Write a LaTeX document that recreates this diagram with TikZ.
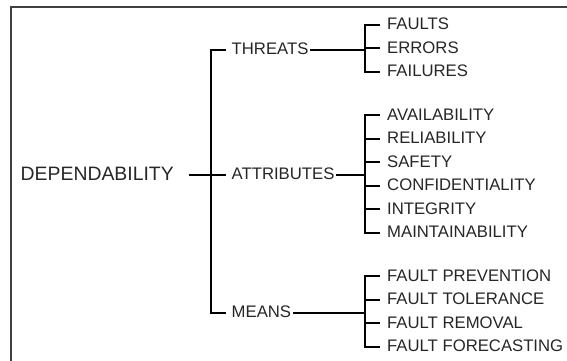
\documentclass[tikz,border=0pt]{standalone}
\usepackage{fontspec}
\setmainfont{Liberation Sans}
\usetikzlibrary{positioning}

\begin{document}
\begin{tikzpicture}[x=1pt, y=-1pt,
  item/.style={anchor=west, inner sep=0pt, text height=12pt, text depth=2pt,
    text=black!85, font=\fontsize{16.7}{20}\selectfont},
  root/.style={item, text height=13.9pt, font=\fontsize{19.4}{23}\selectfont},
  link/.style={line width=2pt}]

\useasboundingbox (0,0) rectangle (567,361);

% Frame (cut at right and bottom)
\draw[line width=1.4pt, black!75] (11,361) -- (11,7) -- (567,7);

% Main concept
\node[root] (dep) at (20.5,174.5) {DEPENDABILITY};

% First level
\node[item] (thr) at (231.5,50) {THREATS};
\node[item] (att) at (231.5,174.5) {ATTRIBUTES};
\node[item] (mea) at (231.5,312.5) {MEANS};

% Second level (threats)
\node[item] (fau) at (387,25) {FAULTS};
\node[item] (err) at (387,48.5) {ERRORS};
\node[item] (fai) at (387,72) {FAILURES};

% Second level (attributes)
\node[item] (ava) at (387,115) {AVAILABILITY};
\node[item] (rel) at (387,138.5) {RELIABILITY};
\node[item] (saf) at (387,162) {SAFETY};
\node[item] (con) at (387,185.5) {CONFIDENTIALITY};
\node[item] (int) at (387,209) {INTEGRITY};
\node[item] (mai) at (387,232.5) {MAINTAINABILITY};

% Second level (means)
\node[item] (fpr) at (387,276) {FAULT PREVENTION};
\node[item] (fto) at (387,299.5) {FAULT TOLERANCE};
\node[item] (fre) at (387,323) {FAULT REMOVAL};
\node[item] (ffo) at (387,346.5) {FAULT FORECASTING};

% Junctions
\coordinate (trunk) at (211,174.5);
\coordinate (jthr) at (365,50);
\coordinate (jatt) at (365,174.5);
\coordinate (jmea) at (365,312.5);

% Trunk
\draw[link] ([xshift=-5.5pt]thr.west) -- (trunk |- thr.west) -- (trunk |- mea.west) -- ([xshift=-5.5pt]mea.west);
\draw[link, shorten <=15pt, shorten >=5.5pt] (dep.east) -- (att.west);

% Brackets
\draw[link] ([xshift=-7pt]fau.west) -- (jthr |- fau.west) -- (jthr |- fai.west) -- ([xshift=-7pt]fai.west);
\draw[link] ([xshift=-7pt]ava.west) -- (jatt |- ava.west) -- (jatt |- mai.west) -- ([xshift=-7pt]mai.west);
\draw[link] ([xshift=-7pt]fpr.west) -- (jmea |- fpr.west) -- (jmea |- ffo.west) -- ([xshift=-7pt]ffo.west);

% Connections
\foreach \a/\j in {thr/jthr, att/jatt, mea/jmea}
    \draw[link, shorten <=1.5pt] (\a.east) -- (\j);

\foreach \n/\j in {err/jthr, rel/jatt, saf/jatt, con/jatt, int/jatt, fto/jmea, fre/jmea}
    \draw[link, shorten >=7pt] (\j |- \n.west) -- (\n.west);

\end{tikzpicture}
\end{document}
